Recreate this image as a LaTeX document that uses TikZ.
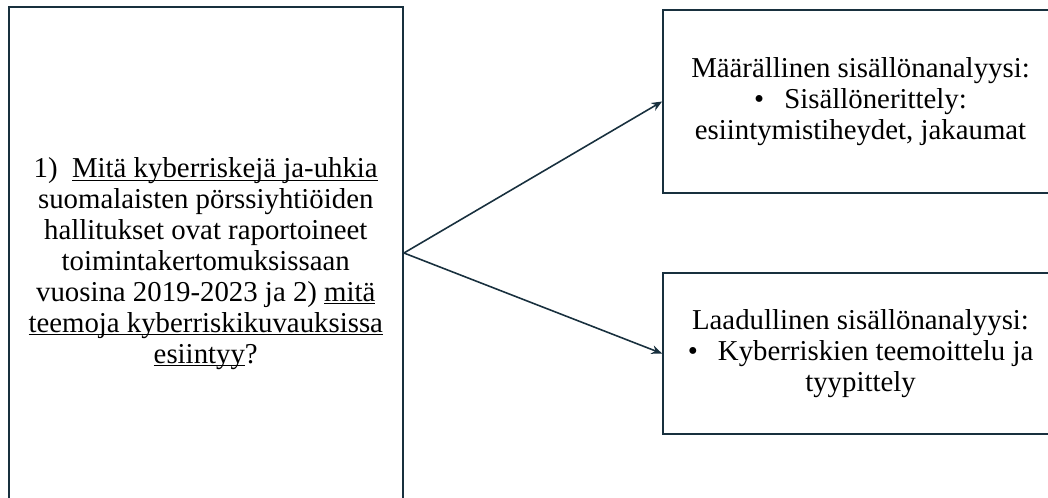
\documentclass[tikz,border=0pt]{standalone}
\usepackage{fontspec}
\setmainfont{Liberation Serif}
\usetikzlibrary{arrows.meta, positioning}
\definecolor{boxline}{RGB}{24,48,62}
\newcommand{\qunder}[1]{\underline{\smash{#1}}}

\begin{document}
\begin{tikzpicture}[
        x=0.02cm, y=-0.02cm,
        box/.style={rectangle, draw=boxline, line width=1.1pt, align=center, inner sep=0pt, font=\fontsize{16.4}{17.6}\selectfont},
        link/.style={-{Stealth[length=6pt, width=5pt]}, draw=boxline, line width=0.9pt}
    ]
    \useasboundingbox (0,0) rectangle (1048,497);

    % --- Left: research question ---
    \node[box, minimum width=7.89cm, minimum height=10.2cm] (question) at (205.75,262) {1)\enspace\qunder{Mitä kyberriskejä ja-uhkia}\\
        suomalaisten pörssiyhtiöiden\\
        hallitukset ovat raportoineet\\
        toimintakertomuksissaan\\
        vuosina 2019-2023 ja 2) \qunder{mitä}\\
        \qunder{teemoja kyberriskikuvauksissa}\\
        \qunder{esiintyy}?};

    % --- Right: methods ---
    \node[box, minimum width=7.9cm, minimum height=3.66cm] (quant) at (860.5,101.5) {Määrällinen sisällönanalyysi:\\
        \textbullet\hspace{0.7em}Sisällönerittely:\\
        esiintymistiheydet, jakaumat};
    \node[box, minimum width=7.9cm, minimum height=3.22cm] (qual) at (860.5,353.5) {Laadullinen sisällönanalyysi:\\
        \textbullet\hspace{0.7em}Kyberriskien teemoittelu ja\\
        tyypittely};

    \draw[link] ([yshift=0.18cm]question.east) -- (quant.west);
    \draw[link] ([yshift=0.18cm]question.east) -- (qual.west);
\end{tikzpicture}
\end{document}
